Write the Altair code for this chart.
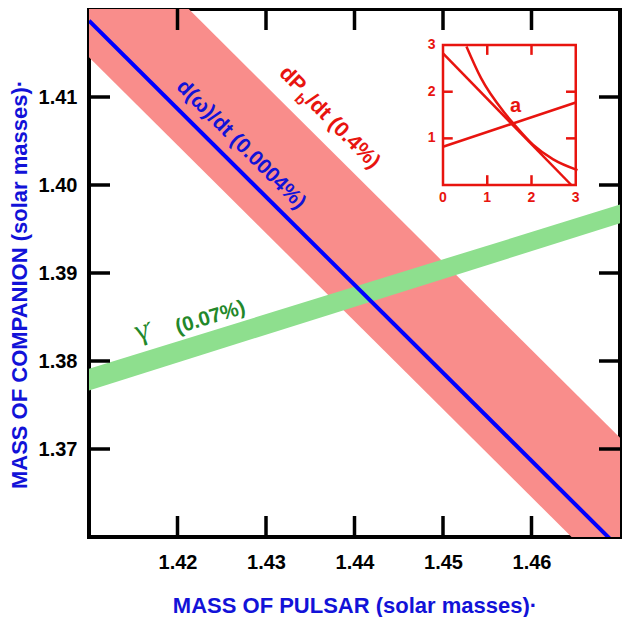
import altair as alt
import pandas as pd

# ---------------- main axes ----------------
x_domain = [1.41, 1.47]
y_domain = [1.36, 1.42]
x_ticks = [1.42, 1.43, 1.44, 1.45, 1.46]
y_ticks = [1.37, 1.38, 1.39, 1.40, 1.41]

# ---------------- constraint bands (mass of pulsar -> mass of companion) ----------------
pulsar_mass = [1.41, 1.47]
omdot_mc = [1.41866, 1.35866]
pbdot_mc_upper = [1.43127, 1.37127]
pbdot_mc_lower = [1.41453, 1.35453]
gamma_mc_upper = [1.37911, 1.39777]
gamma_mc_lower = [1.37666, 1.39565]

# ---------------- labels ----------------
omdot_label = "d(ω)/dt (0.0004%)"
omdot_label_xy = [1.42717, 1.40458]
pbdot_main_parts = ["dP", "/dt (0.4%)"]
pbdot_main_x = [1.43297, 1.43864]
pbdot_main_y = [1.41196, 1.40604]
pbdot_sub = "b"
pbdot_sub_xy = [1.43388, 1.40971]
gamma_symbol = "γ"
gamma_symbol_xy = [1.41625, 1.3825]
gamma_accent = "´"
gamma_accent_xy = [1.41692, 1.38334]
gamma_label = "(0.07%)"
gamma_label_xy = [1.42372, 1.38493]

# ---------------- inset (its own 0..3 units) ----------------
inset_ticks = [1, 2]
inset_x_labels = [0, 1, 2, 3]
inset_y_labels = [1, 2, 3]
inset_line_u = [0.0, 2.9]
inset_line_v = [2.82, 0.0]
inset_curve_u = [0.53, 0.86, 1.38, 1.6, 2.04, 2.49, 3.04]
inset_curve_v = [2.97, 2.29, 1.56, 1.31, 0.86, 0.55, 0.32]
inset_rise_u = [0.0, 3.0]
inset_rise_v = [0.82, 1.77]
inset_point_label = "a"
inset_point_uv = [1.64, 1.7]
# where the inset sits inside the main data space
inset_x0, inset_sx = 1.45, 0.005
inset_y0, inset_sy = 1.40, 0.0053


def ix(u):
    return inset_x0 + u * inset_sx


def iy(v):
    return inset_y0 + v * inset_sy


W, H = 531, 528
FONT = "Liberation Sans"
RED = "#E8140F"
BLUE = "#1212D8"
GREEN = "#23882A"

xs = alt.Scale(domain=x_domain, nice=False, zero=False)
ys = alt.Scale(domain=y_domain, nice=False, zero=False)

x_axis = alt.Axis(values=x_ticks, format=".2f", title="MASS OF PULSAR (solar masses)·",
                  titleX=W / 2, titleY=75, titleAlign="center", titleBaseline="alphabetic",
                  labelPadding=15, ticks=False, domain=False, grid=False)
y_axis = alt.Axis(values=y_ticks, format=".2f", title="MASS OF COMPANION (solar masses)·",
                  titleAngle=270, titleX=-70, titleY=275, titleAlign="center",
                  titleBaseline="middle", labelPadding=12, ticks=False, domain=False, grid=False)


def X(field):
    return alt.X(field, type="quantitative", scale=xs, axis=x_axis)


def Y(field):
    return alt.Y(field, type="quantitative", scale=ys, axis=y_axis)


def label(text, xy, **style):
    df = pd.DataFrame({"x": [xy[0]], "y": [xy[1]], "t": [text]})
    return alt.Chart(df).mark_text(**style).encode(x=X("x"), y=Y("y"), text="t:N")


# bands
pb_df = pd.DataFrame({"x": pulsar_mass, "lo": pbdot_mc_lower, "hi": pbdot_mc_upper})
red_band = alt.Chart(pb_df).mark_area(color="#F98D8B", clip=True).encode(
    x=X("x"), y=Y("lo"), y2="hi:Q")

g_df = pd.DataFrame({"x": pulsar_mass, "lo": gamma_mc_lower, "hi": gamma_mc_upper})
green_band = alt.Chart(g_df).mark_area(color="#8EDF8E", clip=True).encode(
    x=X("x"), y=Y("lo"), y2="hi:Q")

om_df = pd.DataFrame({"x": pulsar_mass, "y": omdot_mc})
blue_line = alt.Chart(om_df).mark_line(color="#0000FF", strokeWidth=4, clip=True).encode(
    x=X("x"), y=Y("y"))

# labels
om_text = label(omdot_label, omdot_label_xy, angle=45, font=FONT, fontSize=21, fontWeight="bold",
                color=BLUE, align="center", baseline="middle")

pb_main = alt.Chart(pd.DataFrame({"x": pbdot_main_x, "y": pbdot_main_y, "t": pbdot_main_parts})).mark_text(
    angle=45, font=FONT, fontSize=21.5, fontWeight="bold", color=RED, align="center", baseline="middle"
).encode(x=X("x"), y=Y("y"), text="t:N")
pb_sub = label(pbdot_sub, pbdot_sub_xy, angle=45, font=FONT, fontSize=15, fontWeight="bold",
               color=RED, align="center", baseline="middle")

g_sym = label(gamma_symbol, gamma_symbol_xy, angle=343, font="Liberation Serif", fontSize=30,
              color=GREEN, align="center", baseline="alphabetic")
g_acc = label(gamma_accent, gamma_accent_xy, angle=343, font="Liberation Serif", fontSize=24,
              color=GREEN, align="center", baseline="middle")
g_text = label(gamma_label, gamma_label_xy, angle=343, font=FONT, fontSize=20.5, fontWeight="bold",
               color=GREEN, align="center", baseline="middle")

# inset
box_df = pd.DataFrame({"x": [ix(0)], "x2": [ix(3)], "y": [iy(0)], "y2": [iy(3)]})
inset_box = alt.Chart(box_df).mark_rect(fill="white", stroke=RED, strokeWidth=2.5).encode(
    x=X("x"), x2="x2:Q", y=Y("y"), y2="y2:Q")

trows = []
for t in inset_ticks:
    trows.append((ix(t), iy(0), ix(t), iy(0.21)))
    trows.append((ix(t), iy(3), ix(t), iy(2.79)))
    trows.append((ix(0), iy(t), ix(0.22), iy(t)))
    trows.append((ix(3), iy(t), ix(2.78), iy(t)))
it_df = pd.DataFrame(trows, columns=["x", "y", "x2", "y2"])
inset_tick_marks = alt.Chart(it_df).mark_rule(color=RED, strokeWidth=2.5).encode(
    x=X("x"), y=Y("y"), x2="x2:Q", y2="y2:Q")

lrows = []
for name, us, vs in [("line", inset_line_u, inset_line_v),
                     ("curve", inset_curve_u, inset_curve_v),
                     ("rise", inset_rise_u, inset_rise_v)]:
    for i, (u, v) in enumerate(zip(us, vs)):
        lrows.append((name, i, ix(u), iy(v)))
il_df = pd.DataFrame(lrows, columns=["s", "o", "x", "y"])
inset_lines = alt.Chart(il_df).mark_line(color=RED, strokeWidth=2.5, interpolate="monotone").encode(
    x=X("x"), y=Y("y"), detail="s:N", order="o:Q")

ixl_df = pd.DataFrame({"x": [ix(u) for u in inset_x_labels], "y": [iy(-0.28)] * len(inset_x_labels),
                       "t": [str(u) for u in inset_x_labels]})
inset_xlab = alt.Chart(ixl_df).mark_text(font=FONT, fontSize=14, fontWeight="bold", color=RED,
                                         align="center", baseline="middle").encode(
    x=X("x"), y=Y("y"), text="t:N")
iyl_df = pd.DataFrame({"x": [ix(-0.17)] * len(inset_y_labels), "y": [iy(v) for v in inset_y_labels],
                       "t": [str(v) for v in inset_y_labels]})
inset_ylab = alt.Chart(iyl_df).mark_text(font=FONT, fontSize=14, fontWeight="bold", color=RED,
                                         align="right", baseline="middle").encode(
    x=X("x"), y=Y("y"), text="t:N")
inset_a = label(inset_point_label, [ix(inset_point_uv[0]), iy(inset_point_uv[1])], font=FONT,
                fontSize=20, fontWeight="bold", color=RED, align="center", baseline="middle")

# inward ticks on all four sides
xt_df = pd.DataFrame({"v": x_ticks})
yt_df = pd.DataFrame({"v": y_ticks})
TL = 21
tick_style = dict(color="black", strokeWidth=3.5)
bt = alt.Chart(xt_df).mark_rule(**tick_style).encode(x=X("v"), y=alt.value(H), y2=alt.value(H - TL))
tt = alt.Chart(xt_df).mark_rule(**tick_style).encode(x=X("v"), y=alt.value(0), y2=alt.value(TL))
lt = alt.Chart(yt_df).mark_rule(**tick_style).encode(y=Y("v"), x=alt.value(0), x2=alt.value(TL))
rt = alt.Chart(yt_df).mark_rule(**tick_style).encode(y=Y("v"), x=alt.value(W), x2=alt.value(W - TL))

chart = alt.layer(
    red_band, green_band, blue_line, om_text, pb_main, pb_sub, g_sym, g_acc, g_text,
    inset_box, inset_tick_marks, inset_lines, inset_xlab, inset_ylab, inset_a,
    bt, tt, lt, rt,
).properties(
    width=W, height=H,
    autosize=alt.AutoSizeParams(type="none"),
    padding={"left": 81, "top": 1, "right": 2, "bottom": 80},
).configure_view(
    stroke="black", strokeWidth=4
).configure_axis(
    labelFont=FONT, labelFontSize=20, labelFontWeight="bold", labelColor="black",
    titleFont=FONT, titleFontSize=22, titleFontWeight="bold", titleColor=BLUE,
)

chart.save("out.html", embed_options={"renderer": "svg", "actions": False})
